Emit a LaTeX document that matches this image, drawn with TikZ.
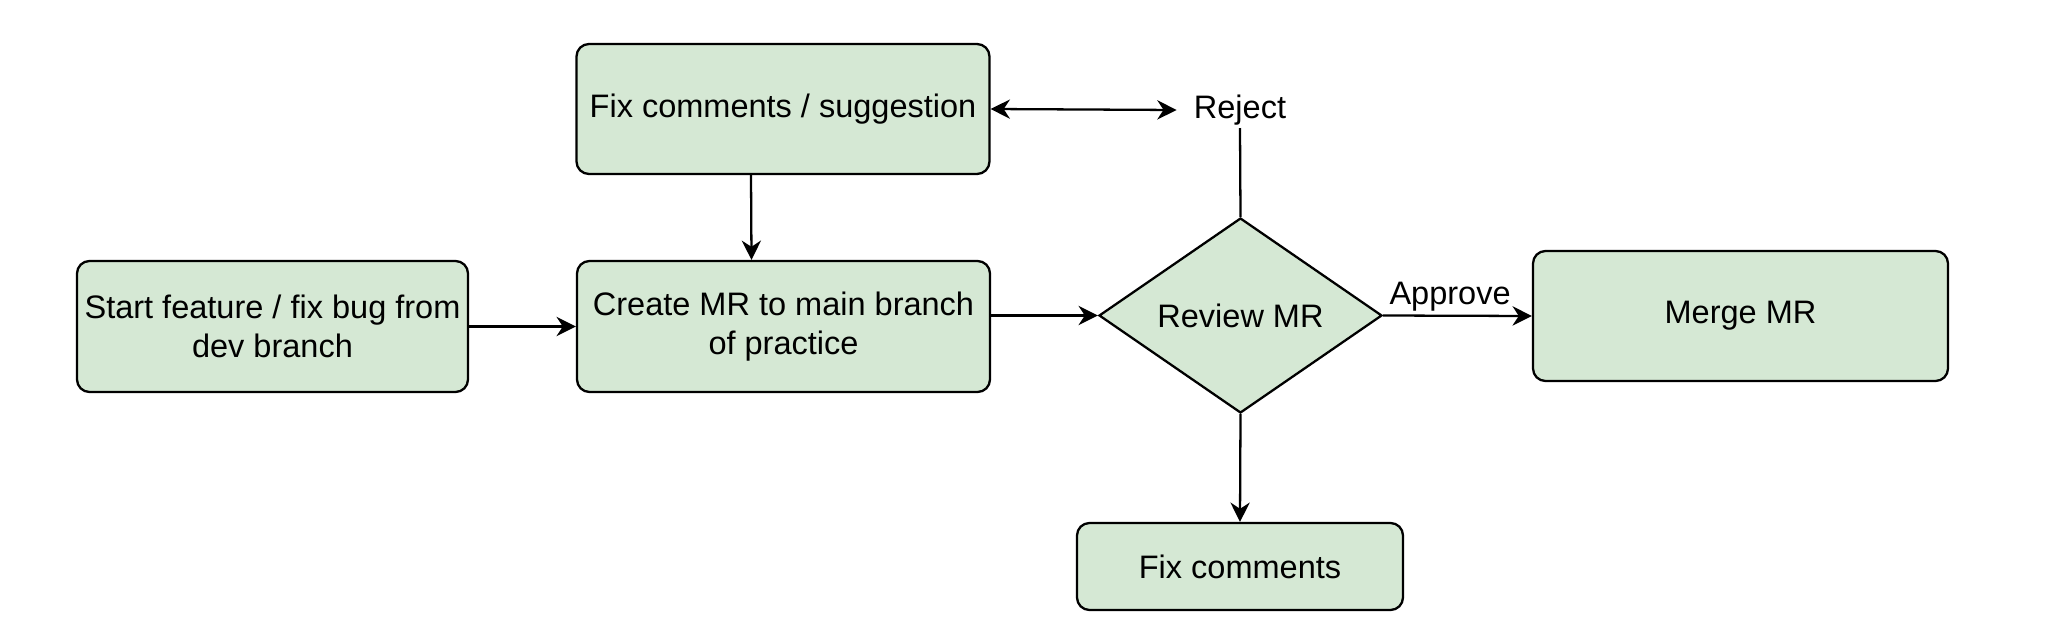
\documentclass[tikz,border=0pt]{standalone}
\usepackage{fontspec}
\setmainfont{Liberation Sans}
\usetikzlibrary{shapes.geometric,arrows.meta}

\definecolor{boxgreen}{HTML}{D5E8D4}

\tikzset{
  box/.style={draw=black, fill=boxgreen, line width=1.3pt, rounded corners=0.25cm,
    align=center, inner sep=0pt},
  decision/.style={draw=black, fill=boxgreen, line width=1.3pt, diamond, inner sep=0pt},
  flow/.style={line width=1.3pt, -{Stealth[length=11pt, width=11pt]}},
  both/.style={line width=1.3pt, {Stealth[length=11pt, width=11pt]}-{Stealth[length=11pt, width=11pt]}},
}

\begin{document}
\begin{tikzpicture}[font=\fontsize{18.5}{21.8}\selectfont]

% Define canvas
\useasboundingbox (0,0) rectangle (41.38,-12.76);

% Define centres of the steps
\coordinate (S) at (5.45,-6.53);    % Start
\coordinate (C) at (15.67,-6.53);   % Create MR
\coordinate (F) at (15.66,-2.18);   % Fix suggestion
\coordinate (R) at (24.81,-6.31);   % Review
\coordinate (M) at (34.81,-6.32);   % Merge
\coordinate (X) at (24.80,-11.33);  % Fix comments
\coordinate (J) at (24.80,-2.20);   % Reject

% Draw the steps
\node[box, minimum width=7.82cm, minimum height=2.62cm] (start) at (S)
  {Start feature / fix bug from\\dev branch};
\node[box, minimum width=8.26cm, minimum height=2.62cm] (create) at (C)
  {Create MR to main branch\\of practice};
\node[box, minimum width=8.26cm, minimum height=2.6cm] (fixsug) at (F)
  {Fix comments / suggestion};
\node[decision, minimum width=5.66cm, minimum height=3.9cm] (review) at (R) {Review MR};
\node[box, minimum width=8.3cm, minimum height=2.6cm] (merge) at (M) {Merge MR};
\node[box, minimum width=6.52cm, minimum height=1.74cm] (fixc) at (X) {Fix comments};

% Reject label
\node[inner xsep=0.34cm, inner ysep=0.05cm] (reject) at (J) {Reject};

% Draw connectors
\draw[flow] (start) -- (create);
\draw[flow] (create.east |- review.west) -- (review.west);
\draw[flow] ([xshift=-0.64cm]fixsug.south) -- ([xshift=-0.64cm]create.north);
\draw[both] (fixsug.east) -- (reject.west);
\draw[line width=1.3pt] (reject.south) -- (review.north);
\draw[flow] (review.east) -- node[above, pos=0.45, inner sep=2pt] (approve) {Approve} (merge.west);
\draw[flow] (review.south) -- (fixc.north);

\end{tikzpicture}
\end{document}
